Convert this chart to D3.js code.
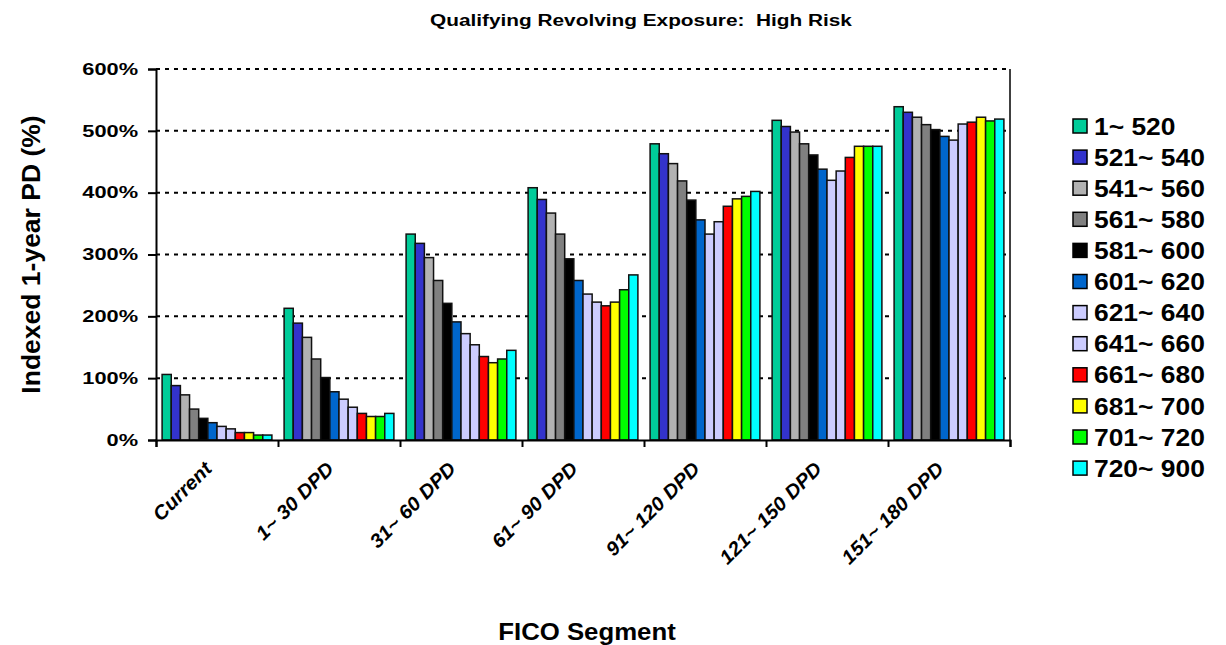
<!DOCTYPE html>
<html>
<head>
<meta charset="utf-8">
<script src="https://cdn.jsdelivr.net/npm/d3@7"></script>
<style>
  body { margin: 0; background: #fff; }
  text { font-family: Arial, "Liberation Sans", sans-serif; font-weight: bold; fill: #000; white-space: pre; }
</style>
</head>
<body>
<div id="chart"></div>
<script>
// categories (x axis)
const categories = ["Current", "1~ 30 DPD", "31~ 60 DPD", "61~ 90 DPD", "91~ 120 DPD", "121~ 150 DPD", "151~ 180 DPD"];
// FICO series (legend)
const series = ["1~ 520", "521~ 540", "541~ 560", "561~ 580", "581~ 600", "601~ 620",
                "621~ 640", "641~ 660", "661~ 680", "681~ 700", "701~ 720", "720~ 900"];
const seriesColors = ["#00CC99", "#3333CC", "#B2B2B2", "#808080", "#000000", "#0066CC",
                      "#CCCCFF", "#CCCCFF", "#FF0000", "#FFFF00", "#00FF00", "#00FFFF"];
// values (%) per category, one entry per series
const current    = [106, 88, 73, 50, 35, 28, 22, 18, 12, 12, 8, 8];
const dpd1_30    = [213, 189, 166, 131, 101, 78, 66, 53, 43, 38, 38, 43];
const dpd31_60   = [333, 318, 295, 258, 221, 191, 172, 154, 135, 125, 131, 145];
const dpd61_90   = [408, 389, 367, 333, 293, 258, 236, 223, 217, 223, 243, 267];
const dpd91_120  = [479, 463, 447, 419, 388, 356, 333, 353, 378, 390, 394, 402];
const dpd121_150 = [517, 507, 498, 479, 461, 438, 420, 435, 457, 475, 475, 475];
const dpd151_180 = [539, 530, 522, 510, 502, 491, 485, 511, 514, 522, 516, 519];
const valuesByCategory = [current, dpd1_30, dpd31_60, dpd61_90, dpd91_120, dpd121_150, dpd151_180];
// y ticks
const yTicks = [0, 100, 200, 300, 400, 500, 600];

const width = 1226, height = 645;
const plot = { left: 156, right: 1010, top: 69, bottom: 440 };

const svg = d3.select("#chart").append("svg")
    .attr("width", width)
    .attr("height", height);

// stretch text horizontally (the source picture is wider than it is tall)
function stretch(sel, k) {
    sel.each(function () {
        const len = this.getComputedTextLength();
        d3.select(this).attr("textLength", len * k).attr("lengthAdjust", "spacingAndGlyphs");
    });
}

const data = categories.map((c, i) => ({
    cat: c,
    values: series.map((s, j) => ({ s: s, v: valuesByCategory[i][j], color: seriesColors[j] }))
}));

const x0 = d3.scaleBand().domain(categories).range([plot.left, plot.right])
    .paddingInner(0.1).paddingOuter(0.05);
const x1 = d3.scaleBand().domain(series).range([0, x0.bandwidth()]).padding(0);
const xEdge = d3.scaleLinear().domain([0, categories.length]).range([plot.left, plot.right]);
const y = d3.scaleLinear().domain([0, 600]).range([plot.bottom, plot.top]);

// gridlines
svg.append("g").selectAll("line")
    .data(yTicks.filter(d => d > 0))
    .enter().append("line")
    .attr("x1", plot.left).attr("x2", plot.right)
    .attr("y1", d => y(d)).attr("y2", d => y(d))
    .attr("stroke", "#000").attr("stroke-width", 2).attr("stroke-dasharray", "4,5");

// right border of plot area
svg.append("line")
    .attr("x1", plot.right).attr("x2", plot.right)
    .attr("y1", plot.top).attr("y2", plot.bottom)
    .attr("stroke", "#000").attr("stroke-width", 1.5);

// bars
const groups = svg.append("g").selectAll("g")
    .data(data).enter().append("g")
    .attr("transform", d => `translate(${x0(d.cat)},0)`);

groups.selectAll("rect")
    .data(d => d.values).enter().append("rect")
    .attr("x", d => x1(d.s))
    .attr("y", d => y(d.v))
    .attr("width", x1.bandwidth())
    .attr("height", d => y(0) - y(d.v))
    .attr("fill", d => d.color)
    .attr("stroke", "#111").attr("stroke-width", 1.5);

// y axis
const yAxis = svg.append("g")
    .attr("transform", `translate(${plot.left},0)`)
    .call(d3.axisLeft(y).tickValues(yTicks).tickSize(8).tickPadding(10).tickFormat(d => d + "%"));
yAxis.select(".domain").attr("stroke-width", 2);
yAxis.selectAll(".tick line").attr("stroke-width", 2);
yAxis.selectAll("text").style("font-size", "16.5px").style("font-family", "Arial, 'Liberation Sans', sans-serif")
    .style("font-weight", "bold");
stretch(yAxis.selectAll("text"), 1.32);

// x axis (ticks on category edges)
const xAxis = svg.append("g")
    .attr("transform", `translate(0,${plot.bottom})`)
    .call(d3.axisBottom(xEdge).tickValues(d3.range(categories.length + 1)).tickSize(7).tickFormat(""));
xAxis.select(".domain").attr("stroke-width", 2);
xAxis.selectAll(".tick line").attr("stroke-width", 2);

// category labels
const catLabels = svg.append("g").selectAll("text")
    .data(categories).enter().append("text")
    .attr("transform", d => `translate(${x0(d) + x0.bandwidth() / 2 - 4},${plot.bottom + 30}) rotate(-45)`)
    .attr("text-anchor", "end")
    .style("font-size", "19.5px")
    .style("font-style", "italic")
    .text(d => d);
stretch(catLabels, 1.05);

// title
const title = svg.append("text")
    .attr("x", 641).attr("y", 26)
    .attr("text-anchor", "middle")
    .style("font-size", "16px")
    .text("Qualifying Revolving Exposure:  High Risk");
stretch(title, 1.3);

// axis titles
svg.append("text")
    .attr("transform", `translate(40,${(plot.top + plot.bottom) / 2 + 0}) rotate(-90)`)
    .attr("text-anchor", "middle")
    .style("font-size", "26.5px")
    .text("Indexed 1-year PD (%)");

const xTitle = svg.append("text")
    .attr("x", 587).attr("y", 640)
    .attr("text-anchor", "middle")
    .style("font-size", "23px")
    .text("FICO Segment");
stretch(xTitle, 1.12);

// legend
const legend = svg.append("g").attr("transform", "translate(1073,126)");
const items = legend.selectAll("g")
    .data(series).enter().append("g")
    .attr("transform", (d, i) => `translate(0,${i * 31.1})`);
items.append("rect")
    .attr("x", 0).attr("y", -7)
    .attr("width", 14).attr("height", 14)
    .attr("fill", (d, i) => seriesColors[i])
    .attr("stroke", "#000").attr("stroke-width", 1.5);
const legendText = items.append("text")
    .attr("x", 21).attr("dy", "0.36em")
    .style("font-size", "24px")
    .text(d => d);
stretch(legendText, 1.1);
</script>
</body>
</html>
